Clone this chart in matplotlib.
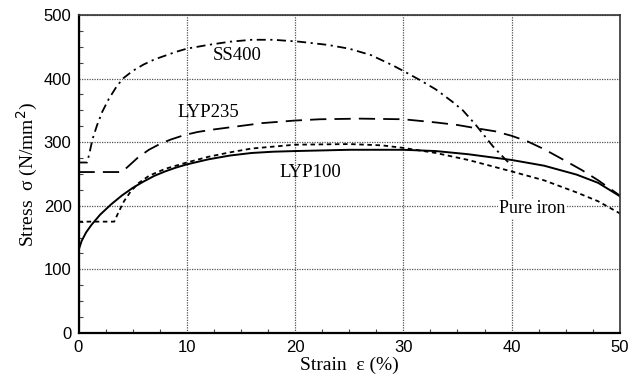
import matplotlib.pyplot as plt
from matplotlib.ticker import MultipleLocator

# Strain (%) / stress (N/mm2)
lyp100_x = [0, 0.3, 0.7, 1.2, 2, 3, 4, 5, 6, 7, 8, 9, 10, 12, 14, 16, 18, 20, 25, 30, 33, 36, 40, 43, 46, 48, 50]
lyp100_y = [130, 145, 158, 170, 186, 202, 216, 228, 238, 247, 254, 260, 265, 273, 279, 283, 285, 286, 288, 288, 286, 281, 272, 263, 249, 236, 215]

iron_x = [0, 3.3, 3.7, 4.2, 4.8, 5.5, 6.5, 8, 10, 12, 14, 16, 20, 25, 28, 30, 33, 36, 40, 43, 46, 48, 50]
iron_y = [175, 175, 190, 207, 222, 235, 247, 258, 268, 277, 284, 290, 296, 297, 295, 291, 283, 272, 254, 240, 221, 207, 188]

lyp235_x = [0, 4.0, 4.6, 5.5, 6.5, 7.5, 8.5, 9.75, 11, 12.5, 14.3, 17, 20, 22.3, 26, 30, 33, 35,
            36.7, 38.5, 40, 41.5, 43, 44.5, 46.5, 48, 50]
lyp235_y = [253, 253, 262, 276, 288, 297, 304, 311, 316, 320, 324, 330, 334, 336, 337, 336, 331, 327,
            322, 317, 310, 301, 289, 275, 256, 240, 216]

ss400_x = [0, 0.8, 1.0, 1.3, 1.7, 2.2, 2.8, 3.5, 4.1, 5, 6, 7, 8, 9, 10, 12, 14, 16, 18, 20.4, 23, 25,
           27, 29, 30, 31.5, 33, 34.5, 35.5, 36.7, 37.5, 38.3, 39.2, 40]
ss400_y = [268, 268, 282, 305, 326, 348, 368, 387, 400, 412, 422, 430, 436, 442, 447, 453, 458, 461, 461, 458, 453, 447,
           437, 421, 412, 398, 383, 364, 350, 327, 310, 293, 277, 263]

plt.rcParams["font.family"] = ["Liberation Serif", "DejaVu Serif"]

fig = plt.figure(figsize=(6.28, 3.84), dpi=100)
ax = fig.add_axes([0.125, 0.133, 0.862, 0.828])

ax.plot(lyp100_x, lyp100_y, color="black", lw=1.4, ls="-")
ax.plot(iron_x, iron_y, color="black", lw=1.3, ls=(0, (2.5, 2)))
ax.plot(lyp235_x, lyp235_y, color="black", lw=1.3, ls=(0, (9, 4.5)))
ax.plot(ss400_x, ss400_y, color="black", lw=1.3, ls=(0, (5, 2.5, 1.2, 2.5)))

ax.text(14.7, 437, "SS400", fontsize=13.5, ha="center", va="center")
ax.text(12.0, 346, "LYP235", fontsize=13.5, ha="center", va="center")
ax.text(21.4, 253, "LYP100", fontsize=13.5, ha="center", va="center")
ax.text(41.9, 195, "Pure iron", fontsize=13, ha="center", va="center",
        bbox=dict(facecolor="white", edgecolor="none", pad=1))

ax.set_xlim(0, 50)
ax.set_ylim(0, 500)
ax.xaxis.set_major_locator(MultipleLocator(10))
ax.xaxis.set_minor_locator(MultipleLocator(2.5))
ax.yaxis.set_major_locator(MultipleLocator(100))
ax.yaxis.set_minor_locator(MultipleLocator(25))
ax.grid(True, which="major", color="#555555", ls=(0, (1, 1)), lw=0.9)
ax.tick_params(which="both", direction="in", top=False, right=False)
ax.tick_params(which="major", length=0, labelsize=12, pad=5)
ax.tick_params(which="minor", length=3, width=0.8, color="#444444")
for lab in ax.get_xticklabels() + ax.get_yticklabels():
    lab.set_family(["Liberation Sans", "DejaVu Sans"])

for side in ["left", "bottom"]:
    ax.spines[side].set_linewidth(1.6)
for side in ["top", "right"]:
    ax.spines[side].set_linewidth(1.2)
    ax.spines[side].set_color("#333333")

ax.set_xlabel("Strain  ε (%)", fontsize=14, labelpad=1)
ax.set_ylabel("Stress  σ (N/mm$^2$)", fontsize=14, labelpad=3)

fig.savefig("out.png", dpi=100)
